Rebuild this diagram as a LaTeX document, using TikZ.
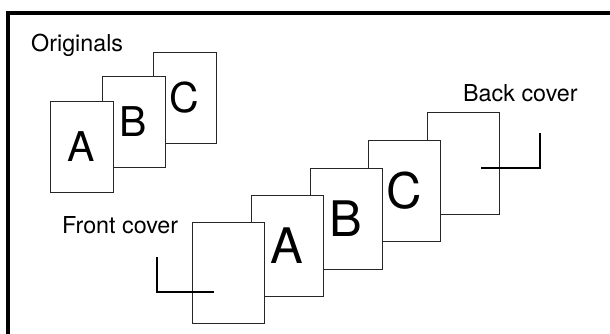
\documentclass[tikz,border=0pt]{standalone}
\usepackage{fontspec}
\setmainfont{TeX Gyre Heros}
\begin{document}
\begin{tikzpicture}[x=1pt,y=-1pt,
  pagebox/.style={draw=black!85, line width=1pt, fill=white, minimum width=72pt, minimum height=101pt, inner sep=0pt, font=\fontsize{49}{49}\selectfont},
  origbox/.style={pagebox, minimum width=63pt, minimum height=90pt, font=\fontsize{41}{41}\selectfont},
  txt/.style={font=\fontsize{23.3}{25}\selectfont, inner sep=0pt, anchor=base west},
  cropmark/.style={line width=2.3pt},
  framestyle/.style={line width=3.5pt}]
\useasboundingbox (0,0) rectangle (610,334);
\clip (0,0) rectangle (610,334);
% frame
\coordinate (fr1) at (620,13);
\coordinate (fr2) at (8,13);
\coordinate (fr3) at (8,345);
\draw[framestyle] (fr1) -- (fr2) -- (fr3);
% originals
\node[origbox] (oC) at (184.5,98) {C};
\node[origbox] (oB) at (133.5,122) {B};
\node[origbox] (oA) at (81.5,147) {A};
\node[txt] (tor) at (31,51.5) {Originals};
% lower series
\node[pagebox] (back) at (463,163.5) {};
\node[pagebox] (pC) at (404,190.5) {C};
\node[pagebox] (pB) at (346,218.5) {B};
\node[pagebox] (pA) at (287,245.5) {A};
\node[pagebox] (front) at (228,272.5) {};
\node[txt] (tfront) at (62,233) {Front cover};
\node[txt] (tback) at (463,101.5) {Back cover};
% crop marks
\coordinate (fm1) at (157,257);
\coordinate (fm2) at (157,292);
\coordinate (fm3) at (214,292);
\draw[cropmark] (fm1) -- (fm2) -- (fm3);
\coordinate (bm1) at (481,168);
\coordinate (bm2) at (540,168);
\coordinate (bm3) at (540,133);
\draw[cropmark] (bm1) -- (bm2) -- (bm3);
\end{tikzpicture}
\end{document}
